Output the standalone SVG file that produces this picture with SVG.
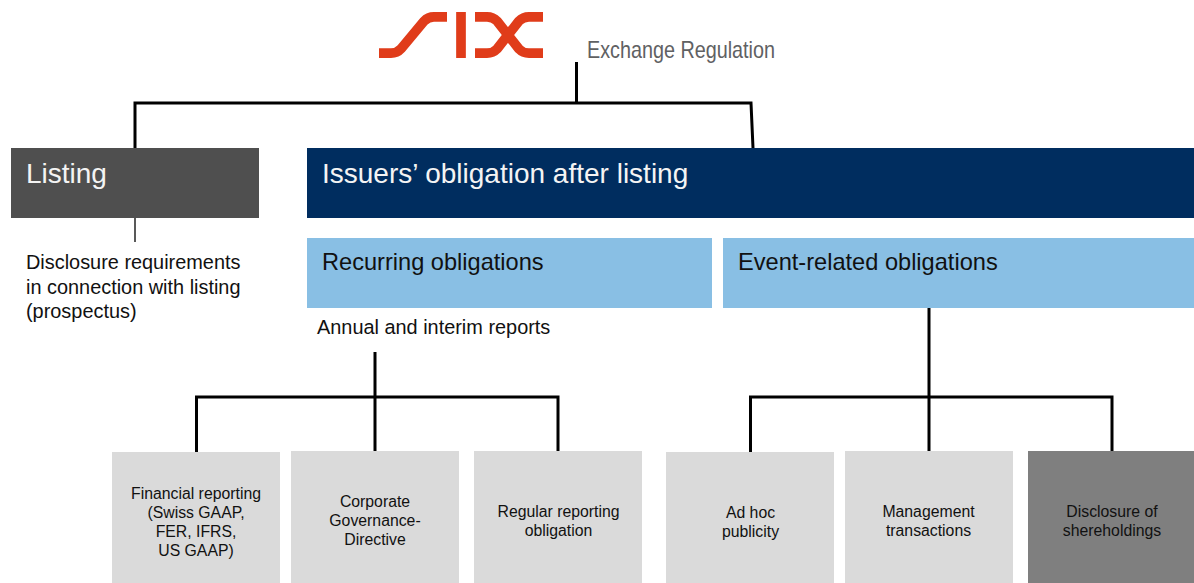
<svg xmlns="http://www.w3.org/2000/svg" width="1194" height="583" viewBox="0 0 1194 583">
<style>
text{font-family:"Liberation Sans",Arial,sans-serif;fill:#111}
.big{font-size:28px;fill:#f4f4f4}
.mid{font-size:23.600px;fill:#111}
.lab{font-size:19.900px}
.sm{font-size:15.800px;text-anchor:middle}
.c{fill:none;stroke:#000;stroke-width:3}
.t{stroke-width:1.5;stroke:#222;fill:none}
.lg{fill:#dadada}
.lo{fill:none;stroke:#e03c1a;stroke-width:9.700}
</style>
<rect width="1194" height="583" fill="#fff"/>
<g id="connectors">
<path class="c" d="M135,148V103H751L753,148M576.500,62V103"/>
<path class="t" d="M135,216V242"/>
<path class="c" d="M375,352V408M196.500,452V397H558V451M375,397V451"/>
<path class="c" d="M929,308V408M750.500,452V397H1112V451M929,397V451"/>
</g>
<g id="logo">
<path class="lo" d="M379,53.200H391Q397,53.200 401,48.800L424,21.200Q428,16.800 434,16.800H447"/>
<path class="lo" d="M461,12V58"/>
<path class="lo" d="M475,16.800H487Q493,16.800 497,21L519,49Q523,53.200 529,53.200H543"/>
<path class="lo" d="M475,53.200H487Q493,53.200 497,49L519,21Q523,16.800 529,16.800H543"/>
<text x="587" y="58" font-size="24" textLength="188" lengthAdjust="spacingAndGlyphs" style="fill:#5f6163">Exchange Regulation</text>
</g>
<g id="listing"><rect x="11" y="148" width="248" height="70" fill="#4f4f4f"/><text class="big" x="26" y="183">Listing</text></g>
<g id="listing-note"><text class="lab" x="26" y="268.500">Disclosure requirements</text><text class="lab" x="26" y="293.500">in connection with listing</text><text class="lab" x="26" y="317.500">(prospectus)</text></g>
<g id="issuers"><rect x="307" y="148" width="887" height="70" fill="#002d5f"/><text class="big" x="322" y="183">Issuers’ obligation after listing</text></g>
<g id="recurring"><rect x="307" y="238" width="405" height="70" fill="#89bfe4"/><text class="mid" x="322" y="269.500">Recurring obligations</text></g>
<g id="recurring-note"><text class="lab" x="317" y="333.500">Annual and interim reports</text></g>
<g id="event"><rect x="723" y="238" width="471" height="70" fill="#89bfe4"/><text class="mid" x="738" y="269.500">Event-related obligations</text></g>
<g id="financial"><rect class="lg" x="112" y="452" width="168" height="131"/><text class="sm" x="196" y="498.500">Financial reporting</text><text class="sm" x="196" y="517.500">(Swiss GAAP,</text><text class="sm" x="196" y="536.500">FER, IFRS,</text><text class="sm" x="196" y="555.500">US GAAP)</text></g>
<g id="governance"><rect class="lg" x="291" y="451" width="168" height="132"/><text class="sm" x="375" y="506.500">Corporate</text><text class="sm" x="375" y="525.500">Governance-</text><text class="sm" x="375" y="544.500">Directive</text></g>
<g id="regular"><rect class="lg" x="474" y="451" width="168" height="132"/><text class="sm" x="558.500" y="516.500">Regular reporting</text><text class="sm" x="558.500" y="535.500">obligation</text></g>
<g id="adhoc"><rect class="lg" x="666" y="452" width="168" height="131"/><text class="sm" x="750.500" y="517.500">Ad hoc</text><text class="sm" x="750.500" y="536.500">publicity</text></g>
<g id="management"><rect class="lg" x="845" y="451" width="168" height="132"/><text class="sm" x="928.500" y="516.500">Management</text><text class="sm" x="928.500" y="535.500">transactions</text></g>
<g id="disclosure"><rect x="1028" y="451" width="166" height="132" fill="#7f7f7f"/><text class="sm" x="1112" y="516.500">Disclosure of</text><text class="sm" x="1112" y="535.500">shereholdings</text></g>
</svg>
